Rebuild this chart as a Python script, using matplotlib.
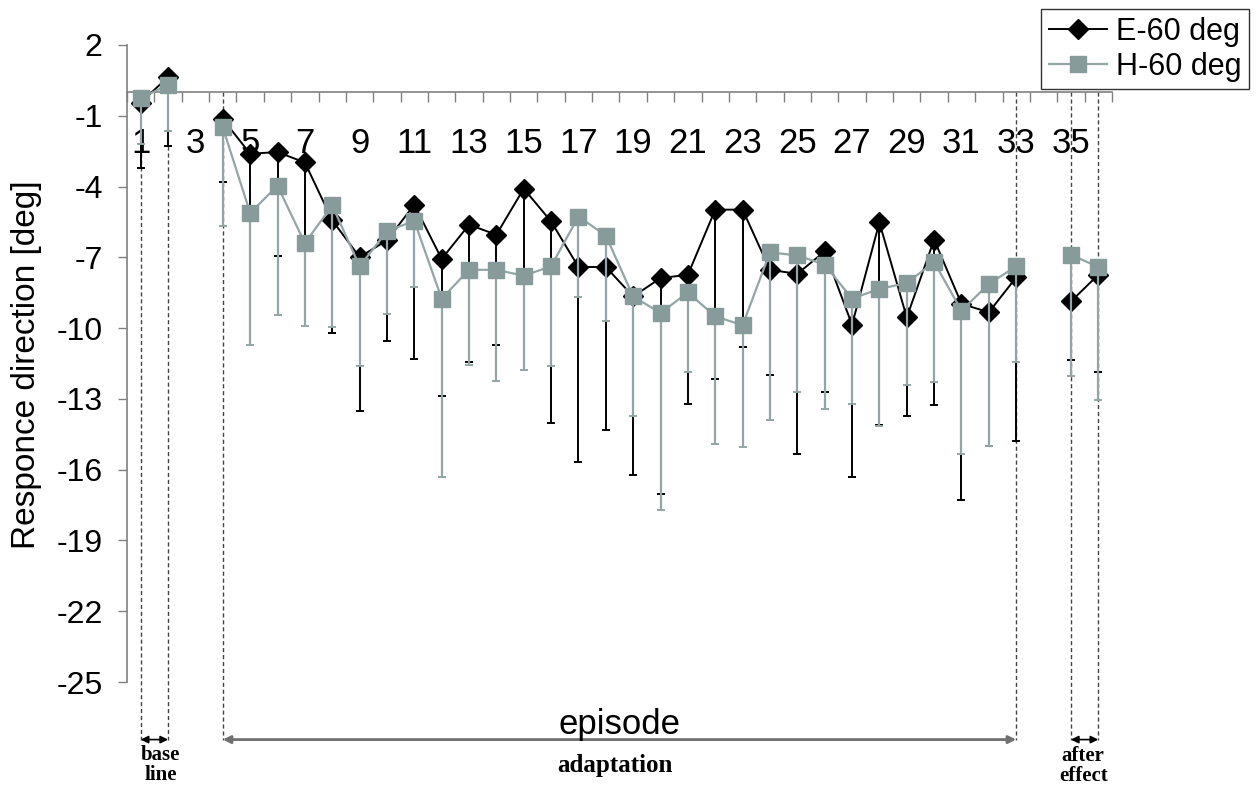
import numpy as np
import matplotlib
matplotlib.use("Agg")
import matplotlib.pyplot as plt
from matplotlib.lines import Line2D

nan = np.nan
episodes = list(range(1, 37))
xtick_labels = [str(i) for i in range(1, 37, 2)]
yticks = [2, -1, -4, -7, -10, -13, -16, -19, -22, -25]

e_mean = [-0.44, 0.64, nan, -1.14, -2.61, -2.54, -2.98, -5.43, -6.99, -6.28, -4.77, -7.07,
          -5.62, -6.04, -4.09, -5.48, -7.41, -7.41, -8.66, -7.88, -7.74, -4.98, -4.98, -7.53,
          -7.70, -6.75, -9.86, -5.52, -9.55, -6.25, -8.97, -9.33, -7.85, nan, -8.87, -7.74]
e_sd = [2.78, 2.91, nan, 2.66, 2.87, 4.42, 3.42, 4.77, 6.54, 4.25, 6.54, 5.82,
        5.82, 4.69, 3.71, 8.54, 8.26, 6.89, 7.55, 9.15, 5.46, 7.18, 5.84, 4.46,
        7.62, 5.97, 6.47, 8.58, 4.16, 7.02, 8.33, 5.67, 6.95, nan, 2.50, 4.12]
h_mean = [-0.25, 0.31, nan, -1.49, -5.12, -3.97, -6.40, -4.80, -7.38, -5.90, -5.45, -8.75,
          -7.53, -7.53, -7.78, -7.38, -5.27, -6.08, -8.66, -9.36, -8.49, -9.50, -9.88, -6.79,
          -6.92, -7.31, -8.75, -8.34, -8.09, -7.20, -9.26, -8.13, -7.38, nan, -6.89, -7.41]
h_sd = [1.95, 1.97, nan, 4.17, 5.58, 5.46, 3.53, 5.17, 4.24, 3.49, 2.81, 7.58,
        4.02, 4.73, 3.98, 4.24, 3.43, 3.61, 5.08, 8.36, 3.37, 5.41, 5.17, 7.09,
        5.80, 6.12, 4.45, 5.80, 4.34, 5.08, 6.08, 6.85, 4.06, nan, 5.16, 5.62]

phase_bounds = [1, 2, 4, 33, 35, 36]
phase_tops = [-2.3, -2.3, 0, 0, 0, 0]

plt.rcParams['font.family'] = ['Liberation Sans', 'DejaVu Sans']

fig = plt.figure(figsize=(12.59, 7.89), dpi=100)
ax = fig.add_axes([0.1009, 0.1356, 0.7823, 0.8074])

x = np.array(episodes, dtype=float)
e_mean = np.array(e_mean); e_sd = np.array(e_sd)
h_mean = np.array(h_mean); h_sd = np.array(h_sd)

E_COL = 'black'
H_LINE = '#93a5a5'
H_FACE = '#889b9b'

# error bars (downward only)
ax.errorbar(x, e_mean, yerr=[e_sd, np.zeros_like(e_sd)], fmt='none', ecolor=E_COL,
            elinewidth=1.4, capsize=3.2, capthick=1.4, zorder=2)
ax.plot(x, e_mean, color=E_COL, lw=1.4, marker='D', ms=10.5, mfc=E_COL, mec=E_COL, zorder=3)
ax.errorbar(x, h_mean, yerr=[h_sd, np.zeros_like(h_sd)], fmt='none', ecolor=H_LINE,
            elinewidth=1.6, capsize=3.2, capthick=1.4, zorder=4)
ax.plot(x, h_mean, color=H_LINE, lw=1.6, marker='s', ms=11.5, mfc=H_FACE, mec=H_FACE, zorder=5)

ax.set_xlim(0.5, 36.5)
ax.set_ylim(-25, 2)

for s in ['top', 'right']:
    ax.spines[s].set_visible(False)
ax.spines['bottom'].set_position(('data', 0))
for s in ['left', 'bottom']:
    ax.spines[s].set_color('#808080')
    ax.spines[s].set_linewidth(1.2)

ax.set_yticks(yticks)
ax.set_yticklabels([str(v) for v in yticks])
ax.tick_params(axis='y', direction='out', length=6.5, width=1, color='#808080',
               labelsize=23, pad=11)
ax.set_xticks(list(range(1, 37, 2)))
ax.set_xticklabels(xtick_labels)
ax.set_xticks(np.arange(0.5, 37, 1.0), minor=True)
ax.tick_params(axis='x', which='major', length=0, labelsize=25, pad=25)
ax.tick_params(axis='x', which='minor', direction='out', length=7, width=1, color='#808080')

# phase boundary dashed lines
y_arrow = -27.44
for xb, top in zip(phase_bounds, phase_tops):
    ax.plot([xb, xb], [top, y_arrow], ls=(0, (3, 2)), color='#444444', lw=1.0,
            clip_on=False, zorder=1)

arrow_kw = dict(arrowstyle='<|-|>', mutation_scale=11, shrinkA=0, shrinkB=0)
ax.annotate('', xy=(phase_bounds[0], y_arrow), xytext=(phase_bounds[1], y_arrow),
            arrowprops=dict(color='black', lw=1.2, **arrow_kw), annotation_clip=False)
ax.annotate('', xy=(phase_bounds[2], y_arrow), xytext=(phase_bounds[3], y_arrow),
            arrowprops=dict(color='#707070', lw=2.0, **arrow_kw), annotation_clip=False)
ax.annotate('', xy=(phase_bounds[4], y_arrow), xytext=(phase_bounds[5], y_arrow),
            arrowprops=dict(color='black', lw=1.2, **arrow_kw), annotation_clip=False)

serif = ['Liberation Serif', 'DejaVu Serif']
ax.text(1.73, -28.5, 'base\nline', ha='center', va='center', fontsize=15,
        family=serif, fontweight='bold', linespacing=1.0, clip_on=False)
ax.text(18.35, -28.55, 'adaptation', ha='center', va='center', fontsize=18,
        family=serif, fontweight='bold', clip_on=False)
ax.text(35.45, -28.55, 'after\neffect', ha='center', va='center', fontsize=15,
        family=serif, fontweight='bold', linespacing=1.0, clip_on=False)

ax.text(18.5, -26.8, 'episode', ha='center', va='center', fontsize=25, clip_on=False)
fig.text(27 / 1259, 1 - 365 / 789, 'Responce direction [deg]', rotation=90,
         ha='center', va='center', fontsize=24)

handles = [Line2D([], [], color=E_COL, lw=1.4, marker='D', ms=10.5, mfc=E_COL, mec=E_COL),
           Line2D([], [], color=H_LINE, lw=1.6, marker='s', ms=11.5, mfc=H_FACE, mec=H_FACE)]
leg = fig.legend(handles, ['E-60 deg', 'H-60 deg'], loc='upper right',
                 bbox_to_anchor=(0.992, 0.988), bbox_transform=fig.transFigure,
                 fontsize=22, frameon=True, fancybox=False, handlelength=1.9,
                 handletextpad=0.3, labelspacing=0.15, borderpad=0.25, borderaxespad=0)
leg.get_frame().set_edgecolor('black')
leg.get_frame().set_linewidth(1.0)

fig.savefig('out.png', dpi=100)
